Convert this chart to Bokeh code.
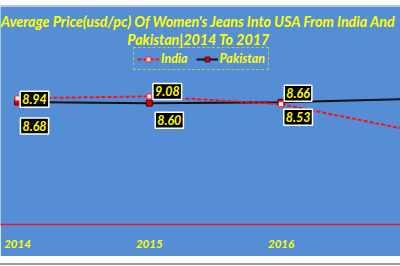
from bokeh.plotting import figure
from bokeh.models import (ColumnDataSource, Range1d, FixedTicker, Label, Legend,
                          LegendItem, Spacer)
from bokeh.layouts import column
from bokeh.embed import file_html
from bokeh.resources import INLINE

# ---- data ----
years = [2014, 2015, 2016, 2017]
india = [8.94, 9.08, 8.53, 6.65]
pakistan = [8.68, 8.60, 8.66, 8.90]
series_names = ["India", "Pakistan"]
title_lines = ["Average Price(usd/pc) Of Women's Jeans Into USA From India And",
               "Pakistan|2014 To 2017"]

# ---- styles ----
BLUE = "#558ED5"
YELLOW = "#FFFF00"
FONT = "Lato"
india_off = [(17, -1), (18, 5), (17, -13)]
pak_off = [(17, -24), (20, -17), (17, 9)]

x0 = years[0] - 0.129
x1 = years[0] + 2.906

p = figure(width=400, height=250, output_backend="svg", toolbar_location=None,
           x_range=Range1d(x0, x1), y_range=Range1d(0, 15.45),
           min_border_left=0, min_border_right=0, min_border_top=0,
           min_border_bottom=32, y_axis_location=None,
           background_fill_color=BLUE, border_fill_color=BLUE,
           outline_line_color=None)
p.grid.visible = False

ax = p.xaxis[0]
ax.ticker = FixedTicker(ticks=years)
ax.axis_line_color = "#E8173C"
ax.axis_line_width = 1.5
ax.major_tick_line_color = None
ax.minor_tick_line_color = None
ax.major_label_text_font = FONT
ax.major_label_text_font_style = "bold italic"
ax.major_label_text_font_size = "11.5px"
ax.major_label_text_color = YELLOW
ax.major_label_standoff = 9

src = ColumnDataSource(dict(x=years, india=india, pak=pakistan))
r_pl = p.line("x", "pak", source=src, line_color="#111111", line_width=2)
r_il = p.line("x", "india", source=src, line_color="#FF1010", line_width=2,
              line_dash="4 2")
r_ps = p.scatter("x", "pak", source=src, marker="square", size=6,
                 fill_color="#E00000", line_color="#500000")
r_is = p.scatter("x", "india", source=src, marker="square", size=5,
                 fill_color="#FFE8E8", line_color="#FF2020")

vis = [i for i, yv in enumerate(years) if x0 <= yv <= x1]
for vals, offs in ((india, india_off), (pakistan, pak_off)):
    for k, i in enumerate(vis):
        dx, dy = offs[k]
        p.add_layout(Label(x=years[i], y=vals[i], text=f"{vals[i]:.2f}",
                           x_offset=dx, y_offset=dy,
                           text_align="center", text_baseline="middle",
                           text_font=FONT, text_font_style="bold italic",
                           text_font_size="12.5px", text_color=YELLOW,
                           background_fill_color="black",
                           border_line_color="white", border_line_width=1.5,
                           padding=(2, 3)))

for txt, yy in ((title_lines[0], 203), (title_lines[1], 185)):
    p.add_layout(Label(x=198, y=yy, x_units="screen", y_units="screen",
                       text=txt, text_align="center", text_baseline="middle",
                       text_font=FONT, text_font_style="bold italic",
                       text_font_size="14.3px", text_color=YELLOW))

legend = Legend(items=[LegendItem(label=series_names[0], renderers=[r_il, r_is]),
                       LegendItem(label=series_names[1], renderers=[r_pl, r_ps])],
                location=(133, 154), orientation="horizontal",
                label_text_font=FONT, label_text_font_style="bold italic",
                label_text_font_size="12.5px", label_text_color=YELLOW,
                border_line_color=YELLOW, border_line_dash="3 2",
                border_line_width=1.5, background_fill_alpha=0,
                padding=3, spacing=8, margin=0, glyph_width=22,
                glyph_height=12, label_standoff=2, label_height=12)
p.add_layout(legend)

top = Spacer(width=400, height=6,
             styles={"border-bottom": "1px solid #C8C8C8", "box-sizing": "border-box"})
bottom = Spacer(width=400, height=9,
                styles={"border-bottom": "2px solid #9A9A9A", "box-sizing": "border-box"})
layout = column(top, p, bottom, spacing=0)
open("out.html", "w").write(file_html(layout, INLINE))
